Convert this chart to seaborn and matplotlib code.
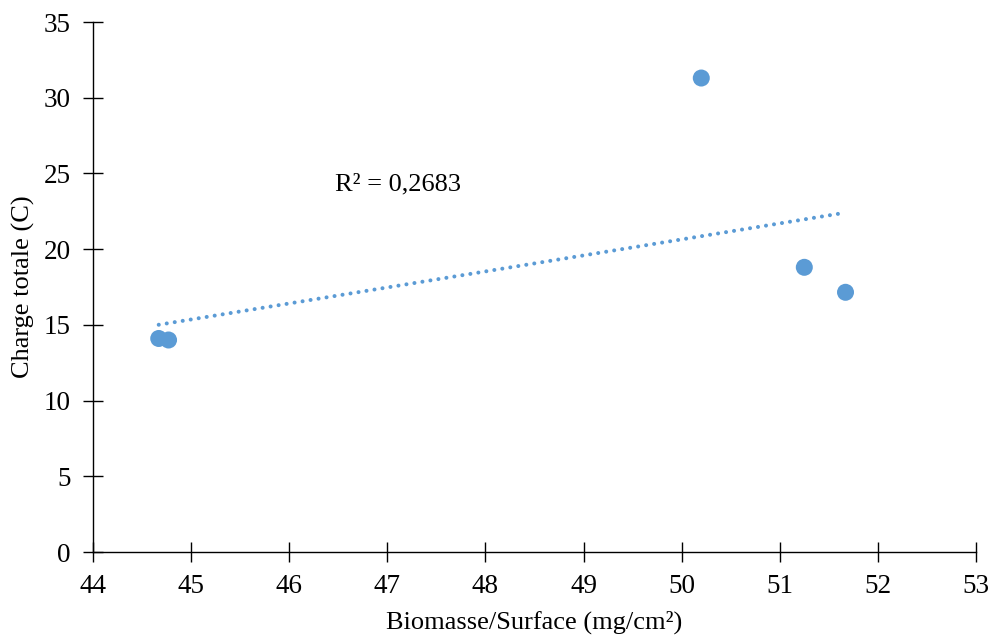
import matplotlib
matplotlib.use("Agg")
import matplotlib.pyplot as plt
import seaborn as sns
import pandas as pd
import numpy as np

biomasse = [44.67, 44.77, 50.20, 51.25, 51.67]
charge = [14.1, 14.0, 31.3, 18.8, 17.15]
r2_label = "R² = 0,2683"
x_ticks = [44, 45, 46, 47, 48, 49, 50, 51, 52, 53]
y_ticks = [0, 5, 10, 15, 20, 25, 30, 35]

df = pd.DataFrame({"x": biomasse, "y": charge})

sns.set_theme(style="white")
plt.rcParams["font.family"] = ["Liberation Serif", "DejaVu Serif"]

fig = plt.figure(figsize=(9.93, 6.39), dpi=100)
ax = fig.add_axes([93/993, 87/639, (976-93)/993, (552-22)/639])

color = "#5B9BD5"
sns.regplot(data=df, x="x", y="y", ax=ax, scatter=False, ci=None, truncate=True,
            color=color,
            line_kws=dict(lw=2.9, linestyle=(0, (0.01, 2.0)), dash_capstyle="round"))
sns.scatterplot(data=df, x="x", y="y", ax=ax, s=150, color=color, edgecolor="none",
                linewidth=0, zorder=3)

ax.set_xlim(44, 53)
ax.set_ylim(0, 35)
ax.set_xticks(x_ticks)
ax.set_yticks(y_ticks)
ax.tick_params(axis="both", bottom=True, left=True, direction="inout", length=14,
               width=1, color="black", labelsize=19.5, labelcolor="black")
ax.tick_params(axis="x", pad=9)
ax.tick_params(axis="y", pad=9)
for s in ["top", "right"]:
    ax.spines[s].set_visible(False)
for s in ["left", "bottom"]:
    ax.spines[s].set_color("black")
    ax.spines[s].set_linewidth(1)

ax.set_xlabel("Biomasse/Surface (mg/cm²)", fontsize=19, color="black", labelpad=8)
ax.set_ylabel("Charge totale (C)", fontsize=19, color="black", labelpad=6)
ax.text(46.47, 24.3, r2_label, fontsize=19, color="black", va="center", ha="left")

fig.savefig("out.png", dpi=100)
